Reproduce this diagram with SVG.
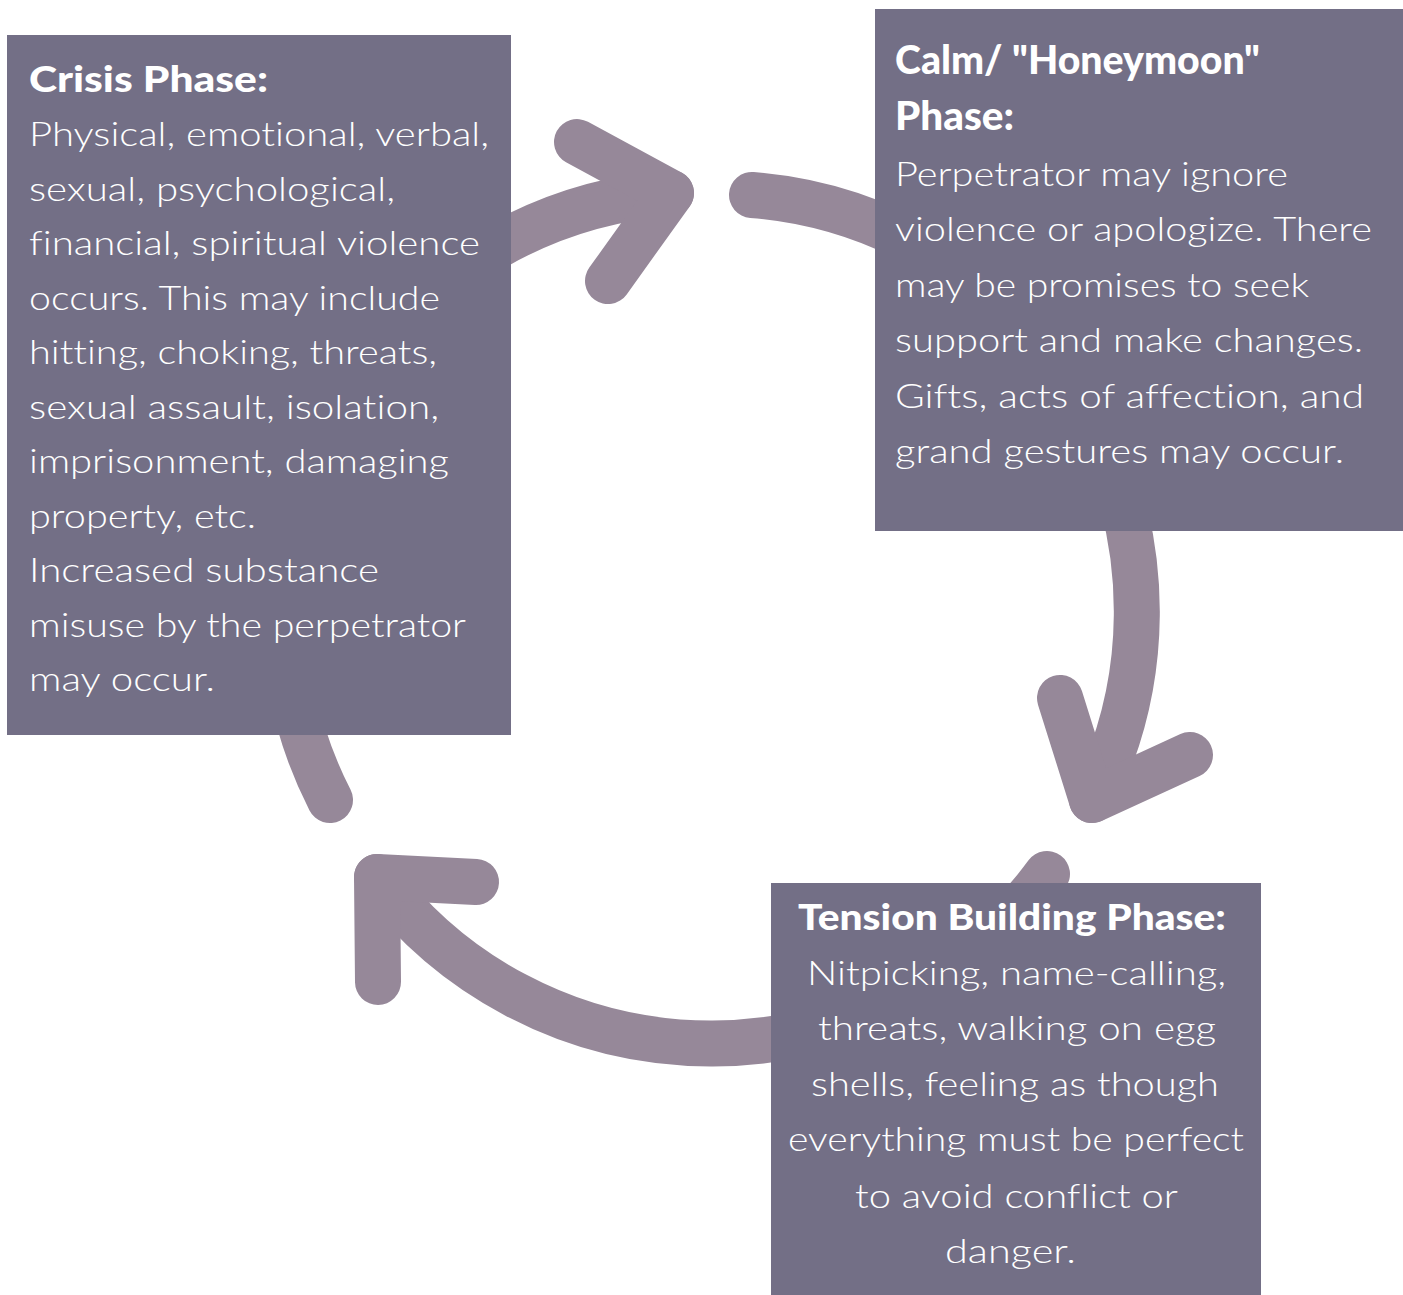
<svg xmlns="http://www.w3.org/2000/svg" width="1403" height="1295" viewBox="0 0 1403 1295">
<style>
.box{fill:#736f86}
.arrow{fill:none;stroke:#968899;stroke-width:46;stroke-linecap:round;stroke-linejoin:round}
.h{font-family:Lato,"Open Sans","Liberation Sans",sans-serif;font-weight:900;fill:#ffffff;font-variant-ligatures:none}
.b{font-family:Lato,"Open Sans","Liberation Sans",sans-serif;font-weight:300;font-size:34px;fill:#ffffff;font-variant-ligatures:none}
</style>
<rect width="1403" height="1295" fill="#ffffff"/>
<g id="connectors">
  <g id="arrow-crisis-to-calm">
    <path class="arrow" d="M 330 800 A 418 418 0 0 1 671 193"/>
    <polyline class="arrow" points="577,142 671,193 608,281"/>
  </g>
  <g id="arrow-calm-to-tension">
    <path class="arrow" d="M 752 195 A 418 418 0 0 1 1092 800"/>
    <polyline class="arrow" points="1060,698 1092,800 1190,755"/>
  </g>
  <g id="arrow-tension-to-crisis">
    <path class="arrow" d="M 1047 874 A 418 418 0 0 1 377 877"/>
    <polyline class="arrow" points="476,882 377,877 378,982"/>
  </g>
</g>
<g id="crisis">
  <rect class="box" x="7" y="35" width="504" height="700"/>
  <text class="h" x="29" y="92" font-size="36" textLength="239" lengthAdjust="spacingAndGlyphs">Crisis Phase:</text>
  <text class="b" x="29" y="146" textLength="460" lengthAdjust="spacingAndGlyphs">Physical, emotional, verbal,</text>
  <text class="b" x="29" y="200.5" textLength="366" lengthAdjust="spacingAndGlyphs">sexual, psychological,</text>
  <text class="b" x="29" y="255" textLength="451" lengthAdjust="spacingAndGlyphs">financial, spiritual violence</text>
  <text class="b" x="29" y="309.5" textLength="411" lengthAdjust="spacingAndGlyphs">occurs. This may include</text>
  <text class="b" x="29" y="364" textLength="408" lengthAdjust="spacingAndGlyphs">hitting, choking, threats,</text>
  <text class="b" x="29" y="418.5" textLength="410" lengthAdjust="spacingAndGlyphs">sexual assault, isolation,</text>
  <text class="b" x="29" y="473" textLength="420" lengthAdjust="spacingAndGlyphs">imprisonment, damaging</text>
  <text class="b" x="29" y="527.5" textLength="227" lengthAdjust="spacingAndGlyphs">property, etc.</text>
  <text class="b" x="29" y="582" textLength="350" lengthAdjust="spacingAndGlyphs">Increased substance</text>
  <text class="b" x="29" y="636.5" textLength="437" lengthAdjust="spacingAndGlyphs">misuse by the perpetrator</text>
  <text class="b" x="29" y="691" textLength="186" lengthAdjust="spacingAndGlyphs">may occur.</text>
</g>
<g id="calm">
  <rect class="box" x="875" y="9" width="528" height="522"/>
  <text class="h" x="895" y="74" font-size="40" textLength="365" lengthAdjust="spacingAndGlyphs">Calm/ "Honeymoon"</text>
  <text class="h" x="895" y="130" font-size="40" textLength="119" lengthAdjust="spacingAndGlyphs">Phase:</text>
  <text class="b" x="895" y="186" textLength="393" lengthAdjust="spacingAndGlyphs">Perpetrator may ignore</text>
  <text class="b" x="895" y="241" textLength="477" lengthAdjust="spacingAndGlyphs">violence or apologize. There</text>
  <text class="b" x="895" y="297" textLength="414" lengthAdjust="spacingAndGlyphs">may be promises to seek</text>
  <text class="b" x="895" y="352" textLength="468" lengthAdjust="spacingAndGlyphs">support and make changes.</text>
  <text class="b" x="895" y="408" textLength="469" lengthAdjust="spacingAndGlyphs">Gifts, acts of affection, and</text>
  <text class="b" x="895" y="463" textLength="449" lengthAdjust="spacingAndGlyphs">grand gestures may occur.</text>
</g>
<g id="tension">
  <rect class="box" x="771" y="883" width="490" height="412"/>
  <text class="h" x="798" y="930" font-size="36" textLength="428" lengthAdjust="spacingAndGlyphs">Tension Building Phase:</text>
  <text class="b" x="807" y="985" textLength="419" lengthAdjust="spacingAndGlyphs">Nitpicking, name-calling,</text>
  <text class="b" x="818" y="1040" textLength="398" lengthAdjust="spacingAndGlyphs">threats, walking on egg</text>
  <text class="b" x="811" y="1096" textLength="408" lengthAdjust="spacingAndGlyphs">shells, feeling as though</text>
  <text class="b" x="788" y="1151" textLength="456" lengthAdjust="spacingAndGlyphs">everything must be perfect</text>
  <text class="b" x="855" y="1208" textLength="323" lengthAdjust="spacingAndGlyphs">to avoid conflict or</text>
  <text class="b" x="945" y="1263" textLength="131" lengthAdjust="spacingAndGlyphs">danger.</text>
</g>
</svg>
